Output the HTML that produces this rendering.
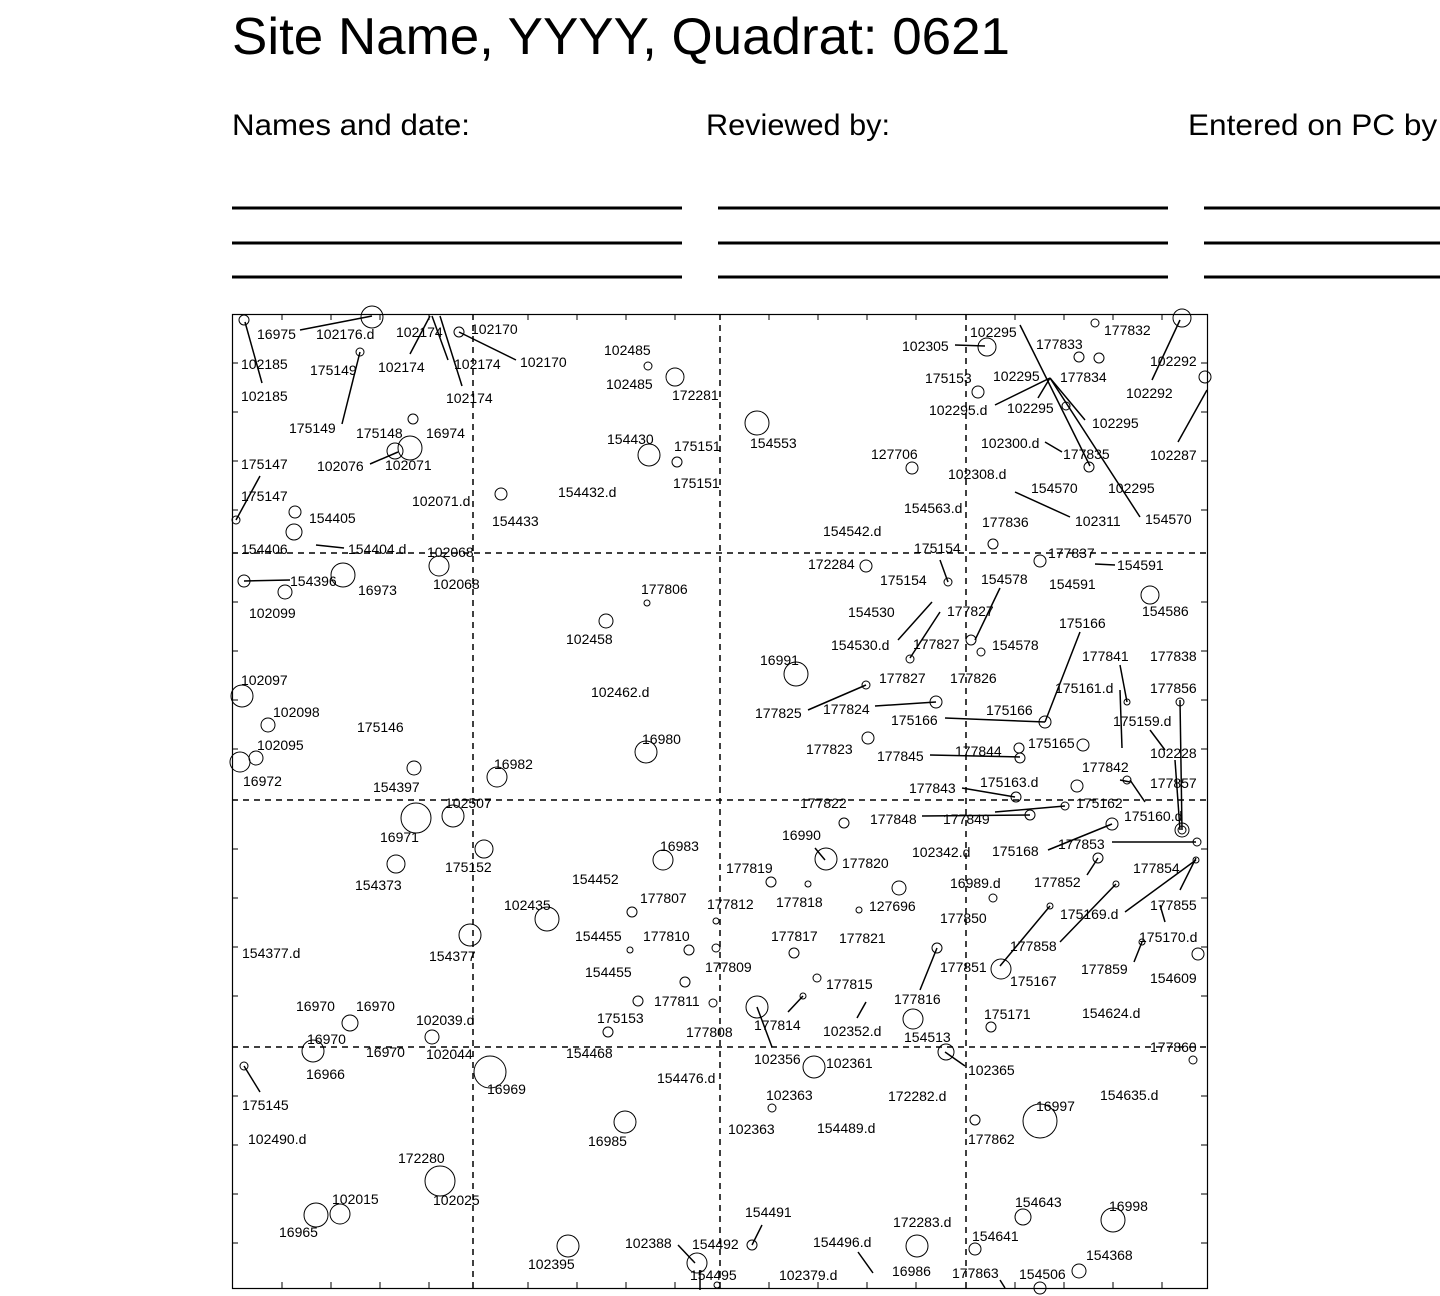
<!DOCTYPE html>
<html><head><meta charset="utf-8"><style>
html,body{margin:0;padding:0;background:#fff;}
svg{display:block}
text{font-family:"Liberation Sans",Arial,sans-serif;}
.l{font-size:14px;fill:#000}
</style></head><body>
<svg width="1440" height="1296" viewBox="0 0 1440 1296" xmlns="http://www.w3.org/2000/svg">
<text x="232" y="54" font-size="52" textLength="778" lengthAdjust="spacingAndGlyphs">Site Name, YYYY, Quadrat: 0621</text>
<text x="232" y="135" font-size="30" textLength="238" lengthAdjust="spacingAndGlyphs">Names and date:</text>
<text x="706" y="135" font-size="30" textLength="184" lengthAdjust="spacingAndGlyphs">Reviewed by:</text>
<text x="1188" y="135" font-size="30" textLength="258" lengthAdjust="spacingAndGlyphs">Entered on PC by:</text>
<g stroke="#000" stroke-width="3">
<line x1="232" y1="208" x2="682" y2="208"/><line x1="232" y1="243" x2="682" y2="243"/><line x1="232" y1="277" x2="682" y2="277"/>
<line x1="718" y1="208" x2="1168" y2="208"/><line x1="718" y1="243" x2="1168" y2="243"/><line x1="718" y1="277" x2="1168" y2="277"/>
<line x1="1204" y1="208" x2="1440" y2="208"/><line x1="1204" y1="243" x2="1440" y2="243"/><line x1="1204" y1="277" x2="1440" y2="277"/>
</g>
<rect x="232.5" y="314.5" width="975" height="974" fill="none" stroke="#000" stroke-width="1.2"/>
<g stroke="#000" stroke-width="1.5" stroke-dasharray="6,5">
<line x1="473" y1="314" x2="473" y2="1288"/><line x1="720" y1="314" x2="720" y2="1288"/><line x1="966" y1="314" x2="966" y2="1288"/>
<line x1="232" y1="553" x2="1207" y2="553"/><line x1="232" y1="800" x2="1207" y2="800"/><line x1="232" y1="1047" x2="1207" y2="1047"/>
</g>
<g stroke="#000" stroke-width="1">
<path d="M282 314v6M331 314v6M380 314v6M429 314v6M528 314v6M577 314v6M626 314v6M675 314v6M769 314v6M818 314v6M867 314v6M916 314v6M1015 314v6M1064 314v6M1113 314v6M1162 314v6"/>
<path d="M282 1288v-6M331 1288v-6M380 1288v-6M429 1288v-6M528 1288v-6M577 1288v-6M626 1288v-6M675 1288v-6M769 1288v-6M818 1288v-6M867 1288v-6M916 1288v-6M1015 1288v-6M1064 1288v-6M1113 1288v-6M1162 1288v-6"/>
<path d="M232 363h6M232 412h6M232 461h6M232 510h6M232 602h6M232 651h6M232 700h6M232 749h6M232 849h6M232 898h6M232 947h6M232 996h6M232 1096h6M232 1145h6M232 1194h6M232 1243h6"/>
<path d="M1207 363h-6M1207 412h-6M1207 461h-6M1207 510h-6M1207 602h-6M1207 651h-6M1207 700h-6M1207 749h-6M1207 849h-6M1207 898h-6M1207 947h-6M1207 996h-6M1207 1096h-6M1207 1145h-6M1207 1194h-6M1207 1243h-6"/>
</g>
<g stroke="#000" stroke-width="1.5" fill="none">
<line x1="300" y1="330" x2="372" y2="316"/><line x1="245" y1="322" x2="262" y2="383"/><line x1="430" y1="316" x2="410" y2="354"/>
<line x1="432" y1="316" x2="448" y2="360"/><line x1="440" y1="316" x2="462" y2="386"/><line x1="459" y1="332" x2="516" y2="360"/>
<line x1="360" y1="352" x2="342" y2="424"/><line x1="370" y1="464" x2="398" y2="452"/><line x1="260" y1="476" x2="236" y2="520"/>
<line x1="316" y1="545" x2="344" y2="548"/><line x1="244" y1="581" x2="290" y2="580"/>
<line x1="955" y1="345" x2="985" y2="346"/><line x1="1020" y1="325" x2="1090" y2="466"/><line x1="995" y1="405" x2="1050" y2="378"/>
<line x1="1050" y1="378" x2="1085" y2="420"/><line x1="1050" y1="378" x2="1140" y2="517"/><line x1="1050" y1="378" x2="1038" y2="398"/>
<line x1="1180" y1="320" x2="1152" y2="380"/><line x1="1207" y1="390" x2="1178" y2="442"/><line x1="1045" y1="442" x2="1062" y2="452"/>
<line x1="1015" y1="492" x2="1070" y2="517"/><line x1="1095" y1="564" x2="1115" y2="565"/><line x1="940" y1="560" x2="948" y2="582"/>
<line x1="898" y1="640" x2="932" y2="602"/><line x1="910" y1="658" x2="940" y2="612"/><line x1="1000" y1="588" x2="975" y2="640"/>
<line x1="808" y1="710" x2="866" y2="685"/><line x1="875" y1="706" x2="936" y2="702"/><line x1="945" y1="718" x2="1045" y2="722"/>
<line x1="1045" y1="722" x2="1080" y2="632"/><line x1="1120" y1="665" x2="1127" y2="702"/><line x1="1120" y1="690" x2="1122" y2="748"/>
<line x1="1180" y1="700" x2="1182" y2="830"/><line x1="1175" y1="760" x2="1180" y2="830"/><line x1="1150" y1="730" x2="1165" y2="750"/>
<line x1="930" y1="755" x2="1020" y2="757"/><line x1="962" y1="788" x2="1015" y2="797"/><line x1="922" y1="816" x2="1030" y2="815"/>
<line x1="995" y1="812" x2="1065" y2="806"/><line x1="1130" y1="780" x2="1145" y2="802"/><line x1="1048" y1="850" x2="1112" y2="824"/>
<line x1="1112" y1="842" x2="1196" y2="842"/><line x1="1087" y1="875" x2="1098" y2="858"/><line x1="1125" y1="912" x2="1196" y2="860"/>
<line x1="1180" y1="890" x2="1196" y2="858"/><line x1="1060" y1="942" x2="1116" y2="884"/><line x1="1000" y1="966" x2="1050" y2="906"/>
<line x1="1134" y1="962" x2="1142" y2="942"/><line x1="1160" y1="905" x2="1165" y2="922"/><line x1="920" y1="990" x2="937" y2="948"/>
<line x1="815" y1="848" x2="825" y2="860"/><line x1="788" y1="1012" x2="803" y2="996"/><line x1="757" y1="1007" x2="772" y2="1047"/>
<line x1="857" y1="1018" x2="866" y2="1002"/><line x1="945" y1="1052" x2="965" y2="1066"/><line x1="244" y1="1066" x2="260" y2="1092"/>
<line x1="678" y1="1245" x2="695" y2="1263"/><line x1="700" y1="1270" x2="700" y2="1290"/><line x1="752" y1="1245" x2="762" y2="1225"/>
<line x1="858" y1="1252" x2="873" y2="1273"/><line x1="1000" y1="1280" x2="1005" y2="1288"/><line x1="1120" y1="780" x2="1130" y2="782"/>
</g>
<g stroke="#000" stroke-width="1" fill="none">
<circle cx="244" cy="320" r="5"/><circle cx="372" cy="317" r="11"/><circle cx="459" cy="332" r="5"/><circle cx="360" cy="352" r="4"/>
<circle cx="413" cy="419" r="5"/><circle cx="395" cy="451" r="8"/><circle cx="410" cy="448" r="12"/><circle cx="236" cy="520" r="4"/>
<circle cx="295" cy="512" r="6"/><circle cx="294" cy="532" r="8"/><circle cx="501" cy="494" r="6"/><circle cx="343" cy="575" r="12"/>
<circle cx="244" cy="581" r="6"/><circle cx="285" cy="592" r="7"/><circle cx="439" cy="566" r="10"/><circle cx="648" cy="366" r="4"/>
<circle cx="675" cy="377" r="9"/><circle cx="649" cy="455" r="11"/><circle cx="677" cy="462" r="5"/><circle cx="757" cy="423" r="12"/>
<circle cx="606" cy="621" r="7"/><circle cx="647" cy="603" r="3"/><circle cx="242" cy="696" r="11"/><circle cx="268" cy="725" r="7"/>
<circle cx="256" cy="758" r="7"/><circle cx="240" cy="762" r="10"/><circle cx="414" cy="768" r="7"/><circle cx="497" cy="777" r="10"/>
<circle cx="646" cy="752" r="11"/><circle cx="987" cy="347" r="9"/><circle cx="1079" cy="357" r="5"/><circle cx="1099" cy="358" r="5"/>
<circle cx="1095" cy="323" r="4"/><circle cx="1182" cy="318" r="9"/><circle cx="978" cy="392" r="6"/><circle cx="1066" cy="406" r="4"/>
<circle cx="1205" cy="377" r="6"/><circle cx="912" cy="468" r="6"/><circle cx="1089" cy="467" r="5"/><circle cx="993" cy="544" r="5"/>
<circle cx="866" cy="566" r="6"/><circle cx="948" cy="582" r="4"/><circle cx="1040" cy="561" r="6"/><circle cx="1150" cy="595" r="9"/>
<circle cx="910" cy="659" r="4"/><circle cx="971" cy="640" r="5"/><circle cx="981" cy="652" r="4"/><circle cx="796" cy="674" r="12"/>
<circle cx="866" cy="685" r="4"/><circle cx="936" cy="702" r="6"/><circle cx="1045" cy="722" r="6"/><circle cx="868" cy="738" r="6"/>
<circle cx="1019" cy="748" r="5"/><circle cx="1020" cy="758" r="5"/><circle cx="1083" cy="745" r="6"/><circle cx="1077" cy="786" r="6"/>
<circle cx="1127" cy="702" r="3"/><circle cx="1180" cy="702" r="4"/><circle cx="1127" cy="780" r="4"/><circle cx="1016" cy="797" r="5"/>
<circle cx="1030" cy="815" r="5"/><circle cx="1065" cy="806" r="4"/><circle cx="1182" cy="830" r="7"/><circle cx="1182" cy="830" r="4"/>
<circle cx="1112" cy="824" r="6"/><circle cx="1197" cy="842" r="4"/><circle cx="1098" cy="858" r="5"/><circle cx="1196" cy="860" r="3"/>
<circle cx="416" cy="818" r="15"/><circle cx="453" cy="816" r="11"/><circle cx="484" cy="849" r="9"/><circle cx="396" cy="864" r="9"/>
<circle cx="663" cy="860" r="10"/><circle cx="547" cy="919" r="12"/><circle cx="470" cy="935" r="11"/><circle cx="632" cy="912" r="5"/>
<circle cx="630" cy="950" r="3"/><circle cx="689" cy="950" r="5"/><circle cx="716" cy="921" r="3"/><circle cx="716" cy="948" r="4"/>
<circle cx="685" cy="982" r="5"/><circle cx="713" cy="1003" r="4"/><circle cx="638" cy="1001" r="5"/><circle cx="608" cy="1032" r="5"/>
<circle cx="826" cy="859" r="11"/><circle cx="844" cy="823" r="5"/><circle cx="771" cy="882" r="5"/><circle cx="808" cy="884" r="3"/>
<circle cx="899" cy="888" r="7"/><circle cx="859" cy="910" r="3"/><circle cx="794" cy="953" r="5"/><circle cx="817" cy="978" r="4"/>
<circle cx="757" cy="1007" r="11"/><circle cx="803" cy="996" r="3"/><circle cx="913" cy="1019" r="10"/><circle cx="937" cy="948" r="5"/>
<circle cx="993" cy="898" r="4"/><circle cx="1001" cy="969" r="10"/><circle cx="991" cy="1027" r="5"/><circle cx="1116" cy="884" r="3"/>
<circle cx="1050" cy="906" r="3"/><circle cx="1142" cy="942" r="3"/><circle cx="1198" cy="954" r="6"/><circle cx="1193" cy="1060" r="4"/>
<circle cx="350" cy="1023" r="8"/><circle cx="313" cy="1051" r="11"/><circle cx="432" cy="1037" r="7"/><circle cx="490" cy="1072" r="16"/>
<circle cx="244" cy="1066" r="4"/><circle cx="814" cy="1067" r="11"/><circle cx="772" cy="1108" r="4"/><circle cx="946" cy="1052" r="8"/>
<circle cx="975" cy="1120" r="5"/><circle cx="1040" cy="1121" r="17"/><circle cx="625" cy="1122" r="11"/><circle cx="440" cy="1181" r="15"/>
<circle cx="316" cy="1215" r="12"/><circle cx="340" cy="1214" r="10"/><circle cx="568" cy="1246" r="11"/><circle cx="697" cy="1263" r="10"/>
<circle cx="752" cy="1245" r="5"/><circle cx="917" cy="1246" r="11"/><circle cx="975" cy="1249" r="6"/><circle cx="1023" cy="1217" r="8"/>
<circle cx="1113" cy="1220" r="12"/><circle cx="1079" cy="1271" r="7"/><circle cx="1040" cy="1288" r="6"/><circle cx="717" cy="1285" r="3"/>
</g>
<g class="l">
<text x="257" y="339">16975</text><text x="316" y="339">102176.d</text><text x="396" y="337">102174</text><text x="471" y="334">102170</text>
<text x="241" y="369">102185</text><text x="310" y="375">175149</text><text x="378" y="372">102174</text><text x="454" y="369">102174</text><text x="520" y="367">102170</text>
<text x="241" y="401">102185</text><text x="446" y="403">102174</text><text x="289" y="433">175149</text><text x="356" y="438">175148</text><text x="426" y="438">16974</text>
<text x="241" y="469">175147</text><text x="317" y="471">102076</text><text x="385" y="470">102071</text><text x="241" y="501">175147</text><text x="412" y="506">102071.d</text>
<text x="309" y="523">154405</text><text x="492" y="526">154433</text><text x="558" y="497">154432.d</text><text x="241" y="554">154406</text><text x="348" y="554">154404.d</text>
<text x="427" y="557">102068</text><text x="290" y="586">154396</text><text x="358" y="595">16973</text><text x="433" y="589">102068</text><text x="249" y="618">102099</text>
<text x="604" y="355">102485</text><text x="606" y="389">102485</text><text x="672" y="400">172281</text><text x="607" y="444">154430</text><text x="674" y="451">175151</text>
<text x="750" y="448">154553</text><text x="673" y="488">175151</text><text x="641" y="594">177806</text><text x="566" y="644">102458</text><text x="591" y="697">102462.d</text>
<text x="241" y="685">102097</text><text x="273" y="717">102098</text><text x="357" y="732">175146</text><text x="257" y="750">102095</text><text x="243" y="786">16972</text>
<text x="373" y="792">154397</text><text x="494" y="769">16982</text><text x="642" y="744">16980</text>
<text x="902" y="351">102305</text><text x="970" y="337">102295</text><text x="1036" y="349">177833</text><text x="1104" y="335">177832</text><text x="1150" y="366">102292</text>
<text x="925" y="383">175153</text><text x="993" y="381">102295</text><text x="1060" y="382">177834</text><text x="1126" y="398">102292</text>
<text x="929" y="415">102295.d</text><text x="1007" y="413">102295</text><text x="1092" y="428">102295</text><text x="871" y="459">127706</text>
<text x="981" y="448">102300.d</text><text x="1063" y="459">177835</text><text x="1150" y="460">102287</text><text x="948" y="479">102308.d</text>
<text x="1031" y="493">154570</text><text x="1108" y="493">102295</text><text x="904" y="513">154563.d</text><text x="982" y="527">177836</text>
<text x="1075" y="526">102311</text><text x="1145" y="524">154570</text><text x="823" y="536">154542.d</text><text x="914" y="553">175154</text>
<text x="1048" y="558">177837</text><text x="1117" y="570">154591</text><text x="808" y="569">172284</text><text x="880" y="585">175154</text><text x="981" y="584">154578</text>
<text x="1049" y="589">154591</text><text x="1142" y="616">154586</text><text x="848" y="617">154530</text><text x="947" y="616">177827</text><text x="1059" y="628">175166</text>
<text x="831" y="650">154530.d</text><text x="913" y="649">177827</text><text x="992" y="650">154578</text><text x="1082" y="661">177841</text><text x="1150" y="661">177838</text>
<text x="760" y="665">16991</text><text x="879" y="683">177827</text><text x="950" y="683">177826</text><text x="1055" y="693">175161.d</text><text x="1150" y="693">177856</text>
<text x="755" y="718">177825</text><text x="823" y="714">177824</text><text x="891" y="725">175166</text><text x="986" y="715">175166</text><text x="1113" y="726">175159.d</text>
<text x="806" y="754">177823</text><text x="877" y="761">177845</text><text x="955" y="756">177844</text><text x="1028" y="748">175165</text><text x="1150" y="758">102228</text>
<text x="1082" y="772">177842</text><text x="909" y="793">177843</text><text x="980" y="787">175163.d</text><text x="1150" y="788">177857</text>
<text x="800" y="808">177822</text><text x="1076" y="808">175162</text><text x="870" y="824">177848</text><text x="943" y="824">177849</text><text x="1124" y="821">175160.d</text>
<text x="782" y="840">16990</text><text x="912" y="857">102342.d</text><text x="992" y="856">175168</text><text x="1058" y="849">177853</text><text x="842" y="868">177820</text>
<text x="1133" y="873">177854</text><text x="950" y="888">16989.d</text><text x="1034" y="887">177852</text><text x="869" y="911">127696</text><text x="1060" y="919">175169.d</text>
<text x="1150" y="910">177855</text><text x="940" y="923">177850</text><text x="1139" y="942">175170.d</text><text x="1010" y="951">177858</text>
<text x="940" y="972">177851</text><text x="1081" y="974">177859</text><text x="1010" y="986">175167</text><text x="1150" y="983">154609</text>
<text x="984" y="1019">175171</text><text x="1082" y="1018">154624.d</text><text x="1150" y="1052">177860</text>
<text x="445" y="808">102507</text><text x="380" y="842">16971</text><text x="445" y="872">175152</text><text x="355" y="890">154373</text>
<text x="660" y="851">16983</text><text x="572" y="884">154452</text><text x="726" y="873">177819</text><text x="640" y="903">177807</text>
<text x="707" y="909">177812</text><text x="776" y="907">177818</text><text x="504" y="910">102435</text><text x="575" y="941">154455</text><text x="643" y="941">177810</text>
<text x="771" y="941">177817</text><text x="839" y="943">177821</text><text x="242" y="958">154377.d</text><text x="429" y="961">154377</text>
<text x="585" y="977">154455</text><text x="705" y="972">177809</text><text x="826" y="989">177815</text><text x="894" y="1004">177816</text>
<text x="296" y="1011">16970</text><text x="356" y="1011">16970</text><text x="654" y="1006">177811</text><text x="416" y="1025">102039.d</text>
<text x="597" y="1023">175153</text><text x="754" y="1030">177814</text><text x="686" y="1037">177808</text><text x="823" y="1036">102352.d</text><text x="904" y="1042">154513</text>
<text x="307" y="1044">16970</text><text x="366" y="1057">16970</text><text x="426" y="1059">102044</text><text x="566" y="1058">154468</text>
<text x="754" y="1064">102356</text><text x="826" y="1068">102361</text><text x="968" y="1075">102365</text><text x="306" y="1079">16966</text>
<text x="657" y="1083">154476.d</text><text x="487" y="1094">16969</text><text x="766" y="1100">102363</text><text x="888" y="1101">172282.d</text>
<text x="1036" y="1111">16997</text><text x="1100" y="1100">154635.d</text><text x="242" y="1110">175145</text><text x="728" y="1134">102363</text>
<text x="817" y="1133">154489.d</text><text x="968" y="1144">177862</text><text x="248" y="1144">102490.d</text><text x="588" y="1146">16985</text>
<text x="398" y="1163">172280</text><text x="332" y="1204">102015</text><text x="433" y="1205">102025</text><text x="1015" y="1207">154643</text>
<text x="1109" y="1211">16998</text><text x="745" y="1217">154491</text><text x="893" y="1227">172283.d</text><text x="279" y="1237">16965</text>
<text x="972" y="1241">154641</text><text x="625" y="1248">102388</text><text x="692" y="1249">154492</text><text x="813" y="1247">154496.d</text>
<text x="1086" y="1260">154368</text><text x="528" y="1269">102395</text><text x="892" y="1276">16986</text><text x="690" y="1280">154495</text>
<text x="779" y="1280">102379.d</text><text x="952" y="1278">177863</text><text x="1019" y="1279">154506</text>
</g>
</svg>
</body></html>
